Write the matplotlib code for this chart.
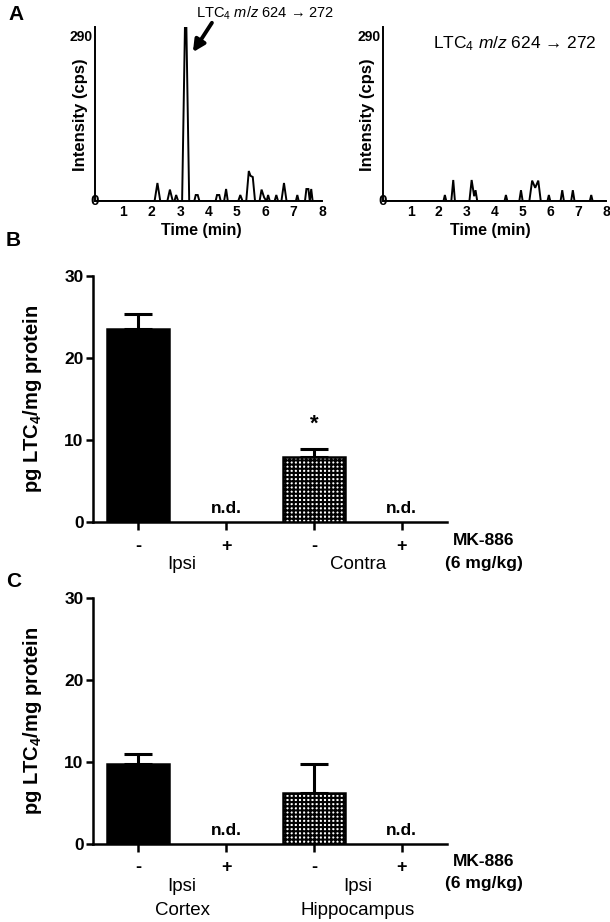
import matplotlib
matplotlib.use("Agg")
import matplotlib.pyplot as plt
from matplotlib.transforms import blended_transform_factory
import numpy as np

plt.rcParams['font.family'] = ['Liberation Sans', 'DejaVu Sans']
plt.rcParams['mathtext.fontset'] = 'custom'
plt.rcParams['mathtext.rm'] = 'Liberation Sans'
plt.rcParams['mathtext.it'] = 'Liberation Sans:italic'
plt.rcParams['mathtext.bf'] = 'Liberation Sans:bold'
plt.rcParams['hatch.linewidth'] = 1.5

# ---------------- Data ----------------
# Panel A: chromatogram traces (time in min, intensity in cps)
trace_left_t = [0, 2.1, 2.2, 2.3, 2.55, 2.64, 2.74, 2.8, 2.86, 2.93,
                3.07, 3.17, 3.22, 3.32, 3.5, 3.55, 3.62, 3.68,
                4.25, 4.3, 4.38, 4.43, 4.55, 4.62, 4.68, 5.05, 5.12, 5.2,
                5.33, 5.42, 5.48, 5.56, 5.64, 5.8, 5.87, 5.96, 6.04,
                6.05, 6.1, 6.16, 6.33, 6.39, 6.45, 6.57, 6.66, 6.75,
                7.08, 7.13, 7.18, 7.4, 7.45, 7.52, 7.57, 7.62, 7.67, 8]
trace_left_i = [0, 0, 30, 0, 0, 19, 0, 0, 10, 0,
                0, 290, 290, 0, 0, 10, 10, 0,
                0, 10, 10, 0, 0, 20, 0, 0, 10, 0,
                0, 50, 42, 40, 0, 0, 19, 6, 0,
                0, 10, 0, 0, 10, 0, 0, 30, 0,
                0, 10, 0, 0, 20, 20, 0, 20, 0, 0]

trace_right_t = [0, 2.17, 2.22, 2.27, 2.45, 2.52, 2.58,
                 3.1, 3.18, 3.27, 3.32, 3.38, 4.36, 4.41, 4.46,
                 4.89, 4.95, 5.01, 5.25, 5.35, 5.46, 5.57, 5.66,
                 5.9, 5.95, 6.0, 6.37, 6.43, 6.49, 6.75, 6.81, 6.87,
                 7.42, 7.47, 7.52, 8]
trace_right_i = [0, 0, 10, 0, 0, 35, 0,
                 0, 35, 8, 18, 0, 0, 10, 0,
                 0, 18, 0, 0, 34, 22, 34, 0,
                 0, 10, 0, 0, 18, 0, 0, 18, 0,
                 0, 10, 0, 0]

# Panel B
b_tick_labels = ['-', '+', '-', '+']
b_values = [23.5, 0, 8.0, 0]
b_errors = [1.9, 0, 0.9, 0]
b_detected = [True, False, True, False]
b_groups = [['Ipsi'], ['Contra']]

# Panel C
c_tick_labels = ['-', '+', '-', '+']
c_values = [9.8, 0, 6.2, 0]
c_errors = [1.2, 0, 3.6, 0]
c_detected = [True, False, True, False]
c_groups = [['Ipsi', 'Cortex'], ['Ipsi', 'Hippocampus']]

W, H = 610, 922
fig = plt.figure(figsize=(W / 100, H / 100), dpi=100)


def px_axes(x0, y0, x1, y1):
    return fig.add_axes([x0 / W, 1 - y1 / H, (x1 - x0) / W, (y1 - y0) / H])


def chrom(ax, t, i, xlab_x, ylab_x):
    ax.plot(t, i, color='black', lw=1.4, solid_joinstyle='miter')
    ax.set_xlim(0, 8)
    ax.set_ylim(0, 290)
    for s in ['top', 'right']:
        ax.spines[s].set_visible(False)
    for s in ['left', 'bottom']:
        ax.spines[s].set_linewidth(1.4)
    ax.set_xticks(range(1, 9))
    ax.set_xticklabels([str(k) for k in range(1, 9)], fontsize=10, fontweight='bold')
    ax.set_yticks([])
    ax.tick_params(axis='x', length=0, pad=3)
    ax.text(-0.012, 0.945, '290', transform=ax.transAxes, ha='right', va='center',
            fontsize=10, fontweight='bold')
    ax.text(0, 0, '0', ha='center', va='center', fontsize=11, fontweight='bold',
            clip_on=False)
    ax.set_xlabel('Time (min)', fontsize=11.5, fontweight='bold')
    ax.xaxis.set_label_coords(xlab_x, -0.125)
    ax.set_ylabel('Intensity (cps)', fontsize=12, fontweight='bold')
    ax.yaxis.set_label_coords(ylab_x, 0.494)


axA1 = px_axes(95, 27, 322, 201)
chrom(axA1, trace_left_t, trace_left_i, 0.47, -0.031)
axA1.text(6.0, 313, r'LTC$_4$ $\mathit{m/z}$ 624 → 272', ha='center', va='center',
          fontsize=10.5, clip_on=False)
axA1.annotate('', xy=(3.45, 248), xytext=(4.12, 297), annotation_clip=False,
              arrowprops=dict(arrowstyle='-|>,head_length=0.7,head_width=0.35',
                              color='black', lw=2.8, shrinkA=0, shrinkB=0))

axA2 = px_axes(383, 27, 606, 201)
chrom(axA2, trace_right_t, trace_right_i, 0.48, -0.036)
axA2.text(4.73, 262, r'LTC$_4$ $\mathit{m/z}$ 624 → 272', ha='center', va='center',
          fontsize=12.5)


def bars(ax, labels, values, errors, detected, groups, star=False,
         group_y=(-0.173, -0.269), mk_y=(-0.075, -0.168)):
    x = np.arange(len(values))
    faces = ['black', 'white', 'white', 'white']
    hatches = [None, None, '++++', None]
    for k in range(len(values)):
        if detected[k]:
            ax.bar(x[k], values[k], width=0.7, color=faces[k], edgecolor='black',
                   linewidth=1.8, hatch=hatches[k], zorder=3)
            ax.errorbar(x[k], values[k], yerr=[[0], [errors[k]]], fmt='none',
                        ecolor='black', elinewidth=2.2, capsize=10, capthick=2.2,
                        zorder=2)
        else:
            ax.text(x[k], 0.75, 'n.d.', ha='center', va='bottom', fontsize=12.5,
                    fontweight='bold')
    if star:
        ax.text(2, 11.9, '*', ha='center', va='center', fontsize=16,
                fontweight='bold')
    ax.set_xlim(-0.51, 3.51)
    ax.set_ylim(0, 30)
    ax.set_yticks([0, 10, 20, 30])
    ax.set_yticklabels(['0', '10', '20', '30'], fontsize=12.5, fontweight='bold')
    ax.set_xticks(x)
    ax.set_xticklabels(labels, fontsize=13, fontweight='bold')
    ax.tick_params(axis='y', length=5, width=1.8, pad=2)
    ax.tick_params(axis='x', length=6, width=1.8, pad=5)
    for s in ['top', 'right']:
        ax.spines[s].set_visible(False)
    for s in ['left', 'bottom']:
        ax.spines[s].set_linewidth(1.8)
    ax.set_ylabel(r'pg LTC$_\mathbf{4}$/mg protein', fontsize=14.5,
                  fontweight='bold')
    ax.yaxis.set_label_coords(-0.14, 0.5)
    tr = blended_transform_factory(ax.transData, ax.transAxes)
    for gx, lines in zip([0.5, 2.5], groups):
        for j, line in enumerate(lines):
            ax.text(gx, group_y[j], line, transform=tr, ha='center', va='center',
                    fontsize=13.5)
    ax.text(3.93, mk_y[0], 'MK-886', transform=tr, ha='center', va='center',
            fontsize=12.5, fontweight='bold')
    ax.text(3.93, mk_y[1], '(6 mg/kg)', transform=tr, ha='center', va='center',
            fontsize=12.5, fontweight='bold')


axB = px_axes(93.3, 275.7, 446.7, 522.3)
bars(axB, b_tick_labels, b_values, b_errors, b_detected, b_groups, star=True)

axC = px_axes(93.3, 598.3, 446.7, 844)
bars(axC, c_tick_labels, c_values, c_errors, c_detected, c_groups,
     group_y=(-0.174, -0.269), mk_y=(-0.07, -0.162))

fig.text(8 / W, 1 - 14 / H, 'A', fontsize=15, fontweight='bold', ha='left', va='center')
fig.text(6 / W, 1 - 240 / H, 'B', fontsize=15, fontweight='bold', ha='left', va='center')
fig.text(6 / W, 1 - 581 / H, 'C', fontsize=15, fontweight='bold', ha='left', va='center')

fig.savefig('out.png', dpi=100)
